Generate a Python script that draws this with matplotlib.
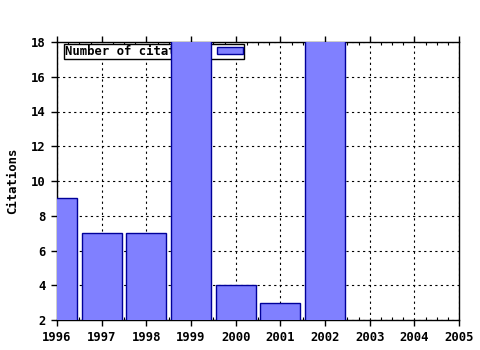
import matplotlib
matplotlib.use("Agg")
import matplotlib.pyplot as plt
from matplotlib.ticker import MultipleLocator

years = [1996, 1997, 1998, 1999, 2000, 2001, 2002]
citations = [9, 7, 7, 20, 4, 3, 20]
xticks = list(range(1996, 2006))
yticks = list(range(2, 19, 2))

plt.rcParams['font.family'] = ['DejaVu Sans Mono']
plt.rcParams['font.weight'] = 'bold'
fs = 8.8

fig = plt.figure(figsize=(4.8, 3.5), dpi=100)
ax = fig.add_axes([57/480, 1-320/350, (459-57)/480, (320-42)/350])

ax.bar(years, citations, width=0.9, color='#8080ff', edgecolor='#000099',
       linewidth=1, zorder=3, label='Number of citations', bottom=0)
ax.set_xlim(1996, 2005)
ax.set_ylim(2, 18)
ax.set_xticks(xticks)
ax.set_yticks(yticks)
ax.xaxis.set_minor_locator(MultipleLocator(0.25))
ax.yaxis.set_minor_locator(MultipleLocator(0.5))
ax.tick_params(axis='both', which='major', direction='out', length=4, width=1,
               labelsize=fs, top=True, right=False, pad=4)
ax.tick_params(axis='x', which='minor', direction='in', length=2, width=0.8, top=True)
ax.tick_params(axis='y', which='minor', length=0)
for lab in ax.get_xticklabels() + ax.get_yticklabels():
    lab.set_fontweight('bold')
ax.grid(True, which='major', linestyle=(0, (2, 3)), color='black', linewidth=0.8, zorder=0)
ax.set_axisbelow(True)
for s in ax.spines.values():
    s.set_linewidth(1)
    s.set_color('black')

ax.set_ylabel('Citations', fontsize=fs, fontweight='bold', labelpad=9)

leg = ax.legend(loc='upper left', bbox_to_anchor=(0.017, 0.993), borderaxespad=0,
                markerfirst=False, fancybox=False, shadow=False, framealpha=1,
                edgecolor='black', borderpad=0.1, handlelength=2.1,
                handleheight=0.5, handletextpad=1.0, prop={'weight': 'bold', 'size': fs})
leg.get_frame().set_linewidth(1)
leg.set_zorder(2)

fig.savefig('out.png', dpi=100)
